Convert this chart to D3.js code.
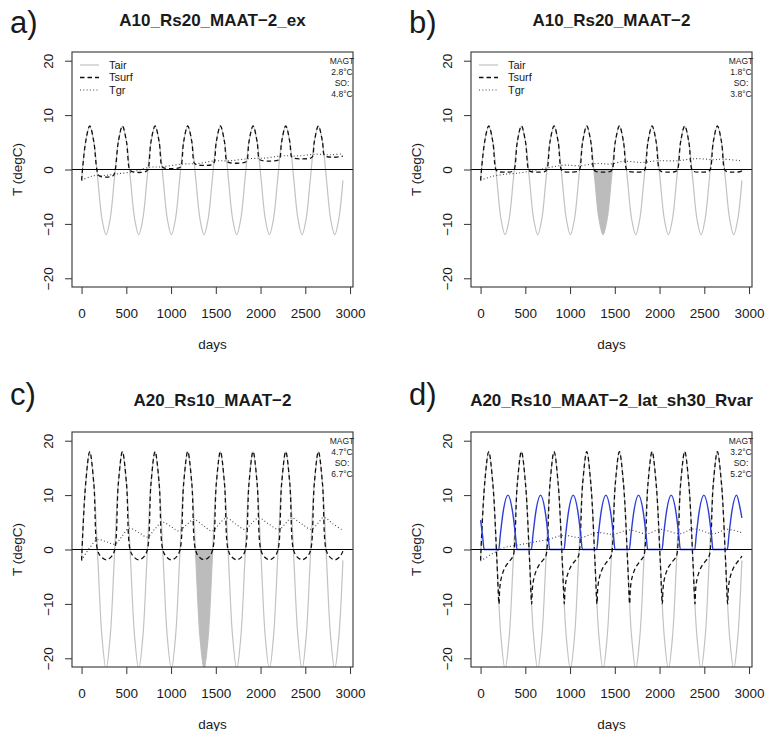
<!DOCTYPE html>
<html>
<head>
<meta charset="utf-8">
<script src="https://cdn.jsdelivr.net/npm/d3@7"></script>
<style>
  body { margin: 0; background: #fff; }
  svg text { font-family: "Liberation Sans", Arial, Helvetica, sans-serif; fill: #1a1a1a; }
</style>
</head>
<body>
<svg id="chart" width="767" height="731"></svg>
<script>
// ---- data ----
const xTicks = [0, 500, 1000, 1500, 2000, 2500, 3000];
const yTicks = [-20, -10, 0, 10, 20];

const letters = ["a)", "b)", "c)", "d)"];
const titles = ["A10_Rs20_MAAT\u22122_ex", "A10_Rs20_MAAT\u22122", "A20_Rs10_MAAT\u22122", "A20_Rs10_MAAT\u22122_lat_sh30_Rvar"];
const magt = ["2.8°C", "1.8°C", "4.7°C", "3.2°C"];
const so = ["4.8°C", "3.8°C", "6.7°C", "5.2°C"];
const legendNames = ["Tair", "Tsurf", "Tgr"];

// air temperature, sampled every 1/8 year
const tairDays = [0, 45.6, 91.3, 136.9, 182.5, 228.1, 273.8, 319.4, 365,
  410.6, 456.3, 501.9, 547.5, 593.1, 638.8, 684.4, 730,
  775.6, 821.3, 866.9, 912.5, 958.1, 1003.8, 1049.4, 1095,
  1140.6, 1186.3, 1231.9, 1277.5, 1323.1, 1368.8, 1414.4, 1460,
  1505.6, 1551.3, 1596.9, 1642.5, 1688.1, 1733.8, 1779.4, 1825,
  1870.6, 1916.3, 1961.9, 2007.5, 2053.1, 2098.8, 2144.4, 2190,
  2235.6, 2281.3, 2326.9, 2372.5, 2418.1, 2463.8, 2509.4, 2555,
  2600.6, 2646.3, 2691.9, 2737.5, 2783.1, 2828.8, 2874.4, 2920];
const tairA10 = [-2, 5.1, 8, 5.1, -2, -9.1, -12, -9.1,
  -2, 5.1, 8, 5.1, -2, -9.1, -12, -9.1,
  -2, 5.1, 8, 5.1, -2, -9.1, -12, -9.1,
  -2, 5.1, 8, 5.1, -2, -9.1, -12, -9.1,
  -2, 5.1, 8, 5.1, -2, -9.1, -12, -9.1,
  -2, 5.1, 8, 5.1, -2, -9.1, -12, -9.1,
  -2, 5.1, 8, 5.1, -2, -9.1, -12, -9.1,
  -2, 5.1, 8, 5.1, -2, -9.1, -12, -9.1, -2];
const tairA20 = [-2, 12.1, 18, 12.1, -2, -16.1, -22, -16.1,
  -2, 12.1, 18, 12.1, -2, -16.1, -22, -16.1,
  -2, 12.1, 18, 12.1, -2, -16.1, -22, -16.1,
  -2, 12.1, 18, 12.1, -2, -16.1, -22, -16.1,
  -2, 12.1, 18, 12.1, -2, -16.1, -22, -16.1,
  -2, 12.1, 18, 12.1, -2, -16.1, -22, -16.1,
  -2, 12.1, 18, 12.1, -2, -16.1, -22, -16.1,
  -2, 12.1, 18, 12.1, -2, -16.1, -22, -16.1, -2];

// surface temperature [day, degC]
const tsurfA = [[0,-2],[45.6,5.1],[91.3,8],[136.9,5.1],[170.8,0],[193,-1.1],[274,-1.4],[355,-1.1],[376.7,0],
  [410.6,5.1],[456.3,8],[501.9,5.1],[535.8,0],[558,-0.35],[639,-0.55],[720,-0.35],[741.7,0],
  [775.6,5.1],[821.3,8],[866.9,5.1],[897.2,0.6],[919,0.3],[1004,0.15],[1088,0.3],[1110.3,0.6],
  [1140.6,5.1],[1186.3,8],[1231.9,5.1],[1258.6,1.2],[1281,0.9],[1369,0.75],[1457,0.9],[1478.9,1.2],
  [1505.6,5.1],[1551.3,8],[1596.9,5.1],[1621.1,1.6],[1643,1.3],[1734,1.15],[1824,1.3],[1846.4,1.6],
  [1870.6,5.1],[1916.3,8],[1961.9,5.1],[1983.6,2.0],[2005,1.7],[2099,1.55],[2192,1.7],[2213.9,2.0],
  [2235.6,5.1],[2281.3,8],[2326.9,5.1],[2346,2.4],[2368,2.1],[2464,1.95],[2560,2.1],[2581.5,2.4],
  [2600.6,5.1],[2646.3,8],[2691.9,5.1],[2709.1,2.7],[2731,2.4],[2829,2.25],[2920,2.45]];
const tsurfB = [[0,-2],[45.6,5.1],[91.3,8],[136.9,5.1],[170.8,0],[192,-0.35],[274,-0.5],[356,-0.35],[376.7,0],
  [410.6,5.1],[456.3,8],[501.9,5.1],[535.8,0],[557,-0.35],[639,-0.5],[721,-0.35],[741.7,0],
  [775.6,5.1],[821.3,8],[866.9,5.1],[900.8,0],[922,-0.35],[1004,-0.5],[1086,-0.35],[1106.7,0],
  [1140.6,5.1],[1186.3,8],[1231.9,5.1],[1265.8,0],[1287,-0.35],[1369,-0.5],[1451,-0.35],[1471.7,0],
  [1505.6,5.1],[1551.3,8],[1596.9,5.1],[1630.8,0],[1652,-0.35],[1734,-0.5],[1816,-0.35],[1836.7,0],
  [1870.6,5.1],[1916.3,8],[1961.9,5.1],[1995.8,0],[2017,-0.35],[2099,-0.5],[2181,-0.35],[2201.7,0],
  [2235.6,5.1],[2281.3,8],[2326.9,5.1],[2360.8,0],[2382,-0.35],[2464,-0.5],[2546,-0.35],[2566.7,0],
  [2600.6,5.1],[2646.3,8],[2691.9,5.1],[2725.8,0],[2747,-0.35],[2829,-0.5],[2911,-0.35],[2920,-0.2]];
const tsurfC = [[0,-2],[45.6,12.1],[91.3,18],[136.9,12.1],[176.7,0],[215,-1.3],[274,-1.9],[333,-1.3],[370.8,0],
  [410.6,12.1],[456.3,18],[501.9,12.1],[541.7,0],[580,-1.3],[639,-1.9],[698,-1.3],[735.8,0],
  [775.6,12.1],[821.3,18],[866.9,12.1],[906.7,0],[945,-1.3],[1004,-1.9],[1063,-1.3],[1100.8,0],
  [1140.6,12.1],[1186.3,18],[1231.9,12.1],[1271.7,0],[1310,-1.3],[1369,-1.9],[1428,-1.3],[1465.8,0],
  [1505.6,12.1],[1551.3,18],[1596.9,12.1],[1636.7,0],[1675,-1.3],[1734,-1.9],[1793,-1.3],[1830.8,0],
  [1870.6,12.1],[1916.3,18],[1961.9,12.1],[2001.7,0],[2040,-1.3],[2099,-1.9],[2158,-1.3],[2195.8,0],
  [2235.6,12.1],[2281.3,18],[2326.9,12.1],[2366.7,0],[2405,-1.3],[2464,-1.9],[2523,-1.3],[2560.8,0],
  [2600.6,12.1],[2646.3,18],[2691.9,12.1],[2731.7,0],[2770,-1.3],[2829,-1.9],[2888,-1.3],[2920,-0.3]];
const tsurfD = [[0,-2],[45.6,12.1],[91.3,18],[136.9,12.1],[182.5,-2],[206,-10],[214,-7.2],[228,-5.5],[250,-4.2],[280,-3.1],[315,-2.3],[350,-1.6],[368,-1.0],
  [410.6,12.1],[456.3,18],[501.9,12.1],[547.5,-2],[571,-10],[579,-7.2],[593,-5.5],[615,-4.2],[645,-3.1],[680,-2.3],[715,-1.6],[733,-1.0],
  [775.6,12.1],[821.3,18],[866.9,12.1],[912.5,-2],[936,-10],[944,-7.2],[958,-5.5],[980,-4.2],[1010,-3.1],[1045,-2.3],[1080,-1.6],[1098,-1.0],
  [1140.6,12.1],[1186.3,18],[1231.9,12.1],[1277.5,-2],[1301,-10],[1309,-7.2],[1323,-5.5],[1345,-4.2],[1375,-3.1],[1410,-2.3],[1445,-1.6],[1463,-1.0],
  [1505.6,12.1],[1551.3,18],[1596.9,12.1],[1642.5,-2],[1666,-10],[1674,-7.2],[1688,-5.5],[1710,-4.2],[1740,-3.1],[1775,-2.3],[1810,-1.6],[1828,-1.0],
  [1870.6,12.1],[1916.3,18],[1961.9,12.1],[2007.5,-2],[2031,-10],[2039,-7.2],[2053,-5.5],[2075,-4.2],[2105,-3.1],[2140,-2.3],[2175,-1.6],[2193,-1.0],
  [2235.6,12.1],[2281.3,18],[2326.9,12.1],[2372.5,-2],[2396,-10],[2404,-7.2],[2418,-5.5],[2440,-4.2],[2470,-3.1],[2505,-2.3],[2540,-1.6],[2558,-1.0],
  [2600.6,12.1],[2646.3,18],[2691.9,12.1],[2737.5,-2],[2761,-10],[2769,-7.2],[2783,-5.5],[2805,-4.2],[2835,-3.1],[2870,-2.3],[2905,-1.6],[2920,-1.2]];

// ground temperature [day, degC]
const tgrA = [[0,-2],[120,-1.2],[260,-1.1],[400,-0.8],[580,-0.4],[755,0.4],[900,0.5],[1126,1.0],[1300,1.1],
  [1497,1.6],[1650,1.6],[1869,2.0],[2050,2.1],[2241,2.5],[2420,2.5],[2612,2.8],[2780,2.7],[2920,2.9]];
const tgrB = [[0,-2],[120,-1.3],[260,-0.9],[400,-0.7],[560,-0.3],[750,0.3],[930,0.8],[1110,0.7],[1300,1.1],
  [1450,1.0],[1600,1.5],[1800,1.3],[1970,1.6],[2180,1.6],[2420,2.0],[2600,1.8],[2700,1.9],[2920,1.6]];
const tgrC = [[0,-2],[90,0.3],[178,1.8],[280,1.4],[375,1.0],[455,2.5],[531,3.9],[640,3.1],[736,2.3],[820,3.8],
  [903,5.0],[1000,4.2],[1089,3.4],[1170,4.5],[1256,5.5],[1360,4.4],[1460,3.4],[1540,4.7],[1617,5.8],[1720,4.7],
  [1825,3.7],[1900,4.8],[1981,5.8],[2090,4.7],[2204,3.7],[2280,4.8],[2345,5.8],[2460,4.7],[2567,3.7],[2640,4.8],
  [2705,5.9],[2810,4.7],[2920,3.5]];
const tgrD = [[0,-2.1],[130,-0.8],[260,0.3],[446,0.9],[600,1.4],[743,1.8],[929,2.6],[1115,2.2],[1301,3.1],
  [1486,2.8],[1653,3.6],[1858,2.9],[2007,3.7],[2230,2.9],[2378,3.8],[2601,2.9],[2750,3.7],[2920,3.1]];

// blue series of panel d [day, degC]
const rvarD = [[0,5.4],[22,2.6],[40,0],
  [203,0],[220,2.6],[254,7.1],[305,10],[356,7.1],[390,2.6],[407,0],
  [568,0],[585,2.6],[619,7.1],[670,10],[721,7.1],[755,2.6],[772,0],
  [933,0],[950,2.6],[984,7.1],[1035,10],[1086,7.1],[1120,2.6],[1137,0],
  [1298,0],[1315,2.6],[1349,7.1],[1400,10],[1451,7.1],[1485,2.6],[1502,0],
  [1663,0],[1680,2.6],[1714,7.1],[1765,10],[1816,7.1],[1850,2.6],[1867,0],
  [2028,0],[2045,2.6],[2079,7.1],[2130,10],[2181,7.1],[2215,2.6],[2232,0],
  [2393,0],[2410,2.6],[2444,7.1],[2495,10],[2546,7.1],[2580,2.6],[2597,0],
  [2758,0],[2775,2.6],[2809,7.1],[2860,10],[2895,8.0],[2920,5.8]];

// shaded winter of year 4 (Tair below zero)
const shadeB = [[1265.8,0],[1277.5,-2],[1323.1,-9.1],[1368.8,-12],[1414.4,-9.1],[1460,-2],[1471.7,0]];
const shadeC = [[1271.7,0],[1277.5,-2],[1323.1,-16.1],[1368.8,-22],[1414.4,-16.1],[1460,-2],[1465.8,0]];

// ---- layout ----
const boxW = 281, boxH = 235;
const panels = [
  { left: 72,  top: 52,  letterY: 33,  tair: tairA10, tsurf: tsurfA, tgr: tgrA, shade: null,   blue: null,  legend: true },
  { left: 471, top: 52,  letterY: 33,  tair: tairA10, tsurf: tsurfB, tgr: tgrB, shade: shadeB, blue: null,  legend: true },
  { left: 72,  top: 432, letterY: 405, tair: tairA20, tsurf: tsurfC, tgr: tgrC, shade: shadeC, blue: null,  legend: false },
  { left: 471, top: 432, letterY: 405, tair: tairA20, tsurf: tsurfD, tgr: tgrD, shade: null,   blue: rvarD, legend: false }
];

const styles = {
  tair:  { stroke: "#c2c2c2", width: 1.2, dash: null },
  tsurf: { stroke: "#111",    width: 1.3, dash: "4.5,3" },
  tgr:   { stroke: "#444",    width: 1.1, dash: "1,2.3" }
};

const svg = d3.select("#chart");
svg.append("rect").attr("width", 767).attr("height", 731).attr("fill", "#fff");

panels.forEach((p, i) => {
  const g = svg.append("g");

  const x = d3.scaleLinear().domain([-107, 3033]).range([p.left, p.left + boxW]);
  const y = d3.scaleLinear().domain([-21.6, 21.6]).range([p.top + boxH, p.top]);

  // clip to the plot box
  const clipId = "clip" + i;
  g.append("clipPath").attr("id", clipId)
    .append("rect")
    .attr("x", p.left).attr("y", p.top)
    .attr("width", boxW).attr("height", boxH);
  const plot = g.append("g").attr("clip-path", `url(#${clipId})`);

  const line = d3.line()
    .x((d) => x(d[0]))
    .y((d) => y(d[1]))
    .curve(d3.curveCatmullRom);

  // Tair
  plot.append("path")
    .datum(d3.zip(tairDays, p.tair))
    .attr("d", line)
    .attr("fill", "none")
    .attr("stroke", styles.tair.stroke)
    .attr("stroke-width", styles.tair.width);

  // shaded freezing season
  if (p.shade) {
    const area = d3.area()
      .x((d) => x(d[0]))
      .y0(y(0))
      .y1((d) => y(d[1]))
      .curve(d3.curveCatmullRom);
    plot.append("path")
      .datum(p.shade)
      .attr("d", area)
      .attr("fill", "#bcbcbc");
  }

  // Tsurf
  plot.append("path")
    .datum(p.tsurf)
    .attr("d", line)
    .attr("fill", "none")
    .attr("stroke", styles.tsurf.stroke)
    .attr("stroke-width", styles.tsurf.width)
    .attr("stroke-dasharray", styles.tsurf.dash);

  // Tgr
  plot.append("path")
    .datum(p.tgr)
    .attr("d", line)
    .attr("fill", "none")
    .attr("stroke", styles.tgr.stroke)
    .attr("stroke-width", styles.tgr.width)
    .attr("stroke-dasharray", styles.tgr.dash);

  // blue series (panel d)
  if (p.blue) {
    plot.append("path")
      .datum(p.blue)
      .attr("d", d3.line().x((d) => x(d[0])).y((d) => y(d[1])).curve(d3.curveMonotoneX))
      .attr("fill", "none")
      .attr("stroke", "#2a3fd8")
      .attr("stroke-width", 1.4);
  }

  // zero line
  plot.append("line")
    .attr("x1", p.left).attr("x2", p.left + boxW)
    .attr("y1", y(0)).attr("y2", y(0))
    .attr("stroke", "#000")
    .attr("stroke-width", 1.2);

  // x axis
  const xa = g.append("g")
    .attr("transform", `translate(0,${p.top + boxH})`)
    .call(d3.axisBottom(x).tickValues(xTicks).tickSize(7).tickFormat(d3.format("d")));
  xa.select(".domain").remove();
  xa.attr("font-size", 13.5).attr("font-family", null).attr("color", "#333");
  xa.selectAll("text").attr("y", 26).attr("dy", "0.35em").attr("fill", "#1a1a1a");

  // y axis, labels parallel to the axis
  const ya = g.append("g")
    .attr("transform", `translate(${p.left},0)`)
    .call(d3.axisLeft(y).tickValues(yTicks).tickSize(7));
  ya.select(".domain").remove();
  ya.attr("font-size", 13.5).attr("font-family", null).attr("color", "#333");
  ya.selectAll("text")
    .attr("transform", "rotate(-90)")
    .attr("x", 0).attr("y", -24)
    .attr("dy", "0.35em")
    .attr("text-anchor", "middle")
    .attr("fill", "#1a1a1a");

  // box
  g.append("rect")
    .attr("x", p.left).attr("y", p.top)
    .attr("width", boxW).attr("height", boxH)
    .attr("fill", "none")
    .attr("stroke", "#333")
    .attr("stroke-width", 1.1);

  // axis titles
  g.append("text")
    .attr("x", p.left + boxW / 2).attr("y", p.top + boxH + 57)
    .attr("dy", "0.35em")
    .attr("text-anchor", "middle")
    .attr("font-size", 13.5)
    .text("days");
  g.append("text")
    .attr("transform", `translate(${p.left - 55},${p.top + boxH / 2}) rotate(-90)`)
    .attr("dy", "0.35em")
    .attr("text-anchor", "middle")
    .attr("font-size", 13.5)
    .text("T (degC)");

  // panel title and letter
  g.append("text")
    .attr("x", p.left + boxW / 2).attr("y", p.top - 26)
    .attr("text-anchor", "middle")
    .attr("font-size", 17)
    .attr("font-weight", "bold")
    .text(titles[i]);
  g.append("text")
    .attr("x", p.left - 62).attr("y", p.letterY)
    .attr("font-size", 31)
    .text(letters[i]);

  // MAGT / SO annotation
  [ "MAGT", magt[i], "SO:", so[i] ].forEach((s, j) => {
    g.append("text")
      .attr("x", p.left + boxW - 11).attr("y", p.top + 9 + j * 11)
      .attr("dy", "0.35em")
      .attr("text-anchor", "middle")
      .attr("font-size", 8.5)
      .text(s);
  });

  // legend
  if (p.legend) {
    ["tair", "tsurf", "tgr"].forEach((k, j) => {
      const ly = p.top + 13 + j * 12.5;
      g.append("line")
        .attr("x1", p.left + 8).attr("x2", p.left + 27)
        .attr("y1", ly).attr("y2", ly)
        .attr("stroke", styles[k].stroke)
        .attr("stroke-width", styles[k].width)
        .attr("stroke-dasharray", styles[k].dash);
      g.append("text")
        .attr("x", p.left + 37).attr("y", ly)
        .attr("dy", "0.35em")
        .attr("font-size", 11)
        .text(legendNames[j]);
    });
  }
});
</script>
</body>
</html>
